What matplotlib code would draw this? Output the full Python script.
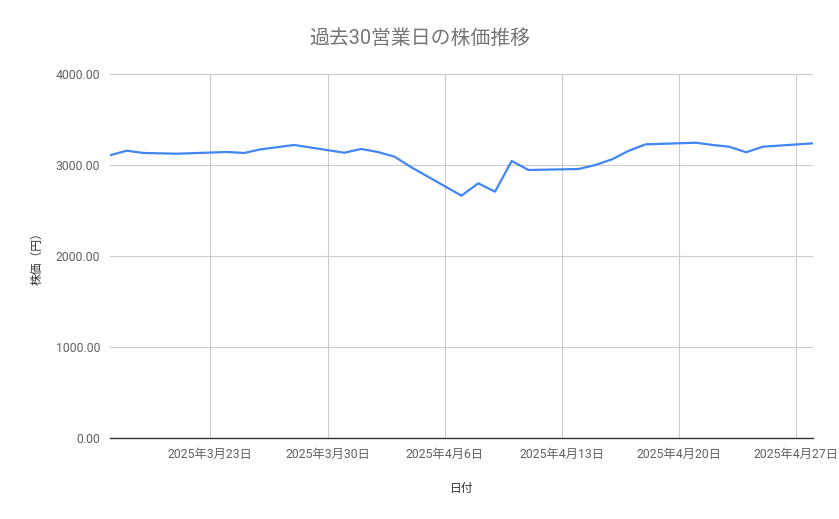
import pandas as pd
import matplotlib.pyplot as plt

plt.rcParams['font.family'] = ['Roboto', 'Noto Sans CJK JP', 'DejaVu Sans']

# 過去30営業日 (3/20 は祝日)
dates = ['2025-03-17', '2025-03-18', '2025-03-19', '2025-03-21',
         '2025-03-24', '2025-03-25', '2025-03-26', '2025-03-27', '2025-03-28',
         '2025-03-31', '2025-04-01', '2025-04-02', '2025-04-03', '2025-04-04',
         '2025-04-07', '2025-04-08', '2025-04-09', '2025-04-10', '2025-04-11',
         '2025-04-14', '2025-04-15', '2025-04-16', '2025-04-17', '2025-04-18',
         '2025-04-21', '2025-04-22', '2025-04-23', '2025-04-24', '2025-04-25',
         '2025-04-28']
prices = [3107, 3157, 3132, 3124,
          3143, 3132, 3172, 3196, 3220,
          3135, 3176, 3143, 3091, 2975,
          2663, 2799, 2707, 3044, 2945,
          2956, 3000, 3063, 3157, 3227,
          3245, 3220, 3201, 3140, 3201,
          3238]
tick_dates = ['2025-03-23', '2025-03-30', '2025-04-06', '2025-04-13',
              '2025-04-20', '2025-04-27']
y_ticks = [0, 1000, 2000, 3000, 4000]

x = pd.to_datetime(dates)
xt = pd.to_datetime(tick_dates)

fig = plt.figure(figsize=(8.39, 5.19), dpi=100)
ax = fig.add_axes([110 / 839, 1 - 438 / 519, 703 / 839, 364 / 519])

ax.plot(x, prices, color='#4285f4', lw=1.6, solid_joinstyle='round')

ax.set_xlim(x[0], x[-1])
ax.set_ylim(0, 4000)
ax.set_yticks(y_ticks)
ax.set_yticklabels([f'{v:.2f}' for v in y_ticks])
ax.set_xticks(xt)
ax.set_xticklabels([f'{d.year}年{d.month}月{d.day}日' for d in xt])

ax.grid(True, color='#cccccc', lw=0.8)
ax.set_axisbelow(True)
for s in ['top', 'right', 'left']:
    ax.spines[s].set_visible(False)
ax.spines['bottom'].set_color('#333333')
ax.spines['bottom'].set_linewidth(1.0)
ax.tick_params(length=0, labelsize=8.8, colors='#616161', pad=7)

fig.text(0.5, 1 - 38 / 519, '過去30営業日の株価推移', fontsize=14.3,
         color='#757575', ha='center', va='center')
ax.set_xlabel('日付', fontsize=8.5, color='#333333', labelpad=15)
ax.set_ylabel('株価（円）', fontsize=8.5, color='#333333', labelpad=9)

fig.savefig('out.png', dpi=100)
